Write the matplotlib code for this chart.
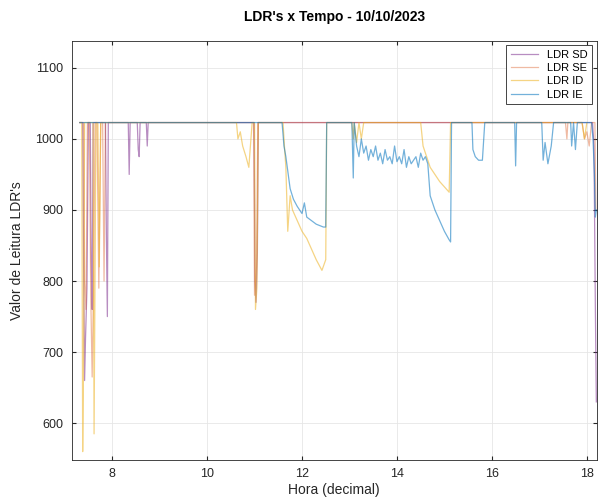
import matplotlib
matplotlib.use("Agg")
import matplotlib.pyplot as plt

plt.rcParams['font.family'] = ['Liberation Sans', 'DejaVu Sans']

# Hour (decimal) and LDR reading for each sensor
sd_t = [7.32, 7.38, 7.40, 7.42, 7.44, 7.47, 7.50, 7.54, 7.56, 7.58, 7.60, 7.86, 7.88, 7.90, 7.92,
        8.34, 8.36, 8.38, 8.53, 8.55, 8.57, 8.59, 8.72, 8.74, 8.76,
        10.99, 11.01, 11.03, 11.06, 11.08, 18.12, 18.15, 18.18, 18.20]
sd_v = [1023, 1023, 820, 660, 720, 790, 1023, 1023, 830, 760, 1023, 1023, 860, 750, 1023,
        1023, 950, 1023, 1023, 985, 975, 1023, 1023, 990, 1023,
        1023, 800, 770, 840, 1023, 1023, 990, 760, 630]

se_t = [7.32, 7.40, 7.42, 7.45, 7.48, 7.52, 7.55, 7.58, 7.61, 7.64, 7.68, 7.72, 7.76, 7.80, 7.83, 7.86,
        10.98, 11.00, 11.04, 11.07, 17.55, 17.58, 17.60, 17.90, 17.95, 18.00, 18.05, 18.10, 18.17, 18.19]
se_v = [1023, 1023, 800, 760, 1023, 1023, 780, 665, 800, 1023, 1023, 790, 1023, 1023, 800, 1023,
        1023, 780, 820, 1023, 1023, 1000, 1023, 1023, 1000, 1010, 990, 1023, 1023, 900]

id_t = [7.32, 7.36, 7.38, 7.40, 7.42, 7.60, 7.62, 7.66, 7.70, 7.73, 7.76,
        10.62, 10.65, 10.70, 10.75, 10.82, 10.88, 10.95, 11.00, 11.02, 11.05, 11.08,
        11.60, 11.63, 11.66, 11.70, 11.75, 11.80, 11.90, 12.00, 12.10, 12.20, 12.30, 12.42, 12.50, 12.52,
        13.05, 13.08, 13.10, 13.15, 13.20, 13.25, 13.30,
        14.50, 14.55, 14.70, 14.90, 15.10, 15.13, 17.90, 17.95, 18.00]
id_v = [1023, 1023, 560, 700, 1023, 1023, 585, 1023, 1023, 820, 1023,
        1023, 1000, 1010, 990, 975, 960, 1023, 1023, 760, 790, 1023,
        1023, 990, 960, 870, 920, 900, 885, 870, 860, 845, 830, 815, 830, 1023,
        1023, 1000, 1023, 995, 1023, 1000, 1023,
        1023, 990, 960, 940, 925, 1023, 1023, 1000, 1023]

ie_t = [7.32, 11.58, 11.62, 11.66, 11.70, 11.75, 11.82, 11.90, 12.00, 12.05, 12.10, 12.20, 12.30,
        12.45, 12.50, 12.52, 13.05, 13.08, 13.10, 13.15, 13.20, 13.25, 13.30, 13.35, 13.40, 13.45,
        13.50, 13.55, 13.60, 13.65, 13.70, 13.75, 13.80, 13.85, 13.90, 13.95, 14.00, 14.05, 14.10,
        14.15, 14.20, 14.25, 14.30, 14.35, 14.40, 14.45, 14.50, 14.55, 14.60, 14.65, 14.70, 14.80,
        14.90, 15.00, 15.10, 15.13, 15.15, 15.58, 15.60, 15.65, 15.72, 15.80, 15.85, 16.48, 16.50,
        16.52, 17.05, 17.08, 17.12, 17.18, 17.25, 17.30, 17.66, 17.68, 17.72, 17.76, 17.80, 18.10,
        18.13, 18.16, 18.18, 18.20]
ie_v = [1023, 1023, 990, 975, 955, 930, 915, 905, 895, 910, 890, 885, 880,
        876, 876, 1023, 1023, 945, 1023, 990, 975, 1000, 980, 990, 970, 985,
        975, 990, 970, 980, 965, 985, 970, 975, 965, 990, 968, 975, 965,
        985, 960, 975, 965, 970, 975, 960, 980, 970, 975, 965, 920, 900,
        885, 870, 858, 855, 1023, 1023, 985, 975, 970, 970, 1023, 1023, 962,
        1023, 1023, 970, 995, 965, 990, 1023, 1023, 990, 1023, 985, 1023, 1023,
        1000, 950, 890, 900]

fig = plt.figure(figsize=(5.98, 5.04), dpi=100)
ax = fig.add_axes([0.12, 0.087, 0.878, 0.832])

ax.plot(sd_t, sd_v, color='#7E2F8E', lw=0.9, alpha=0.55, label='LDR SD')
ax.plot(se_t, se_v, color='#D95319', lw=0.9, alpha=0.4, label='LDR SE')
ax.plot(id_t, id_v, color='#EDB120', lw=0.9, alpha=0.55, label='LDR ID')
ax.plot(ie_t, ie_v, color='#0072BD', lw=0.9, alpha=0.55, label='LDR IE')

ax.set_xlim(7.15, 18.21)
ax.set_ylim(548, 1138)
ax.set_xticks([8, 10, 12, 14, 16, 18])
ax.set_yticks([600, 700, 800, 900, 1000, 1100])
ax.grid(True, color='#e6e6e6', lw=0.6)
ax.tick_params(direction='in', labelsize=9, colors='#262626', length=3, top=True, right=True, pad=6)
for s in ax.spines.values():
    s.set_color('#262626')
    s.set_linewidth(0.6)

ax.set_title("LDR's x Tempo - 10/10/2023", fontsize=10, fontweight='bold', pad=14)
ax.set_xlabel("Hora (decimal)", fontsize=10, color='#262626', labelpad=2)
ax.set_ylabel("Valor de Leitura LDR's", fontsize=10, color='#262626', labelpad=8)

leg = ax.legend(loc='upper right', fontsize=8, fancybox=False, edgecolor='#262626',
                framealpha=1, borderaxespad=0.4, handlelength=2.5, labelspacing=0.3,
                borderpad=0.4)
leg.get_frame().set_linewidth(0.6)

fig.savefig('out.png', dpi=100)
